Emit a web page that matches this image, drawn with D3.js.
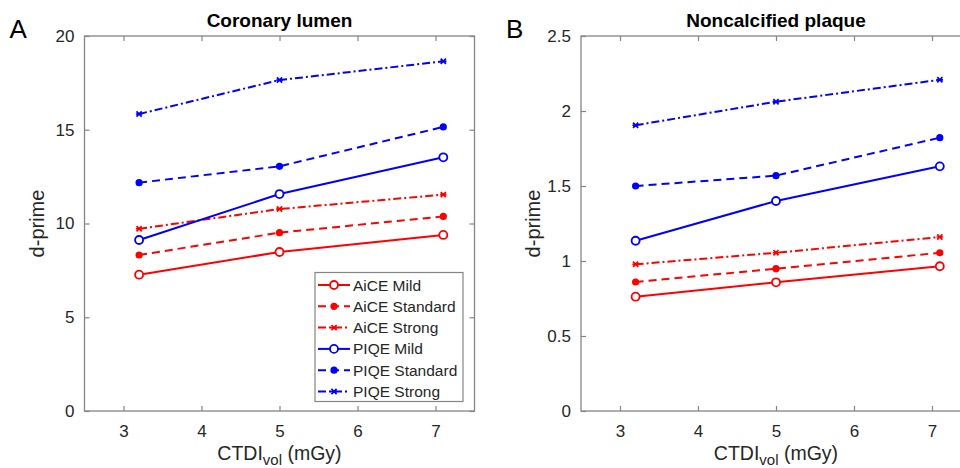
<!DOCTYPE html>
<html><head><meta charset="utf-8">
<script src="https://cdn.jsdelivr.net/npm/d3@7"></script>
<style>body{margin:0;background:#fff}svg{display:block}text{font-family:Arial,"Liberation Sans",sans-serif}</style>
</head><body><svg id="c" width="960" height="468"></svg>
<script>
const doses = [3.2, 5, 7.1];
const seriesNames = ["AiCE Mild","AiCE Standard","AiCE Strong","PIQE Mild","PIQE Standard","PIQE Strong"];
const seriesColors = ["#ff0000","#ff0000","#ff0000","#0000ff","#0000ff","#0000ff"];
const seriesStyles = ["solid","dash","dashdot","solid","dash","dashdot"];
const seriesMarkers = ["circle","dot","star","circle","dot","star"];
// Coronary lumen
const lumenAiceMild = [7.27, 8.48, 9.39];
const lumenAiceStandard = [8.32, 9.51, 10.38];
const lumenAiceStrong = [9.72, 10.77, 11.54];
const lumenPiqeMild = [9.12, 11.57, 13.53];
const lumenPiqeStandard = [12.18, 13.05, 15.15];
const lumenPiqeStrong = [15.84, 17.65, 18.65];
// Noncalcified plaque
const plaqueAiceMild = [0.762, 0.858, 0.965];
const plaqueAiceStandard = [0.86, 0.949, 1.055];
const plaqueAiceStrong = [0.978, 1.055, 1.16];
const plaquePiqeMild = [1.135, 1.40, 1.631];
const plaquePiqeStandard = [1.50, 1.569, 1.822];
const plaquePiqeStrong = [1.905, 2.062, 2.208];
const xTicks = [3,4,5,6,7];
const lumenYTicks = [0,5,10,15,20];
const plaqueYTicks = [0,0.5,1,1.5,2,2.5];

const panels = [
  {letter:"A", title:"Coronary lumen", left:84.5, right:474.5, ymax:20, yTicks:lumenYTicks,
   data:[lumenAiceMild,lumenAiceStandard,lumenAiceStrong,lumenPiqeMild,lumenPiqeStandard,lumenPiqeStrong], legend:true},
  {letter:"B", title:"Noncalcified plaque", left:581, right:971, ymax:2.5, yTicks:plaqueYTicks,
   data:[plaqueAiceMild,plaqueAiceStandard,plaqueAiceStrong,plaquePiqeMild,plaquePiqeStandard,plaquePiqeStrong], legend:false}
];
const plotTop=36, plotBottom=411;
const svg=d3.select("#c");
const dashes={solid:null,dash:"8,5",dashdot:"8,3,2,3"};
const axisCol="#858585", txtCol="#262626";
const fmtTick=d=>String(d);

function drawMarker(g, type, x, y, col){
  if(type==="circle") g.append("circle").attr("cx",x).attr("cy",y).attr("r",4).attr("fill","#fff").attr("stroke",col).attr("stroke-width",1.8);
  else if(type==="dot") g.append("circle").attr("cx",x).attr("cy",y).attr("r",3.6).attr("fill",col);
  else {
    const s=2.6;
    g.append("path").attr("d",`M${x-s},${y-s}L${x+s},${y+s}M${x-s},${y+s}L${x+s},${y-s}M${x-3.2},${y}L${x+3.2},${y}`)
     .attr("stroke",col).attr("stroke-width",1.7).attr("fill","none");
  }
}

panels.forEach(p=>{
  const x=d3.scaleLinear().domain([2.5,7.5]).range([p.left,p.right]);
  const y=d3.scaleLinear().domain([0,p.ymax]).range([plotBottom,plotTop]);
  const g=svg.append("g");
  g.append("rect").attr("x",p.left).attr("y",plotTop).attr("width",p.right-p.left).attr("height",plotBottom-plotTop)
   .attr("fill","none").attr("stroke",axisCol).attr("stroke-width",1.3);
  const ax=g.append("g").attr("transform",`translate(0,${plotBottom})`).call(d3.axisBottom(x).tickValues(xTicks).tickSizeInner(-5).tickSizeOuter(0).tickPadding(14).tickFormat(fmtTick));
  const axT=g.append("g").attr("transform",`translate(0,${plotTop})`).call(d3.axisTop(x).tickValues(xTicks).tickSizeInner(-5).tickSizeOuter(0).tickFormat(""));
  const ay=g.append("g").attr("transform",`translate(${p.left},0)`).call(d3.axisLeft(y).tickValues(p.yTicks).tickSizeInner(-5).tickSizeOuter(0).tickPadding(10).tickFormat(fmtTick));
  const ayR=g.append("g").attr("transform",`translate(${p.right},0)`).call(d3.axisRight(y).tickValues(p.yTicks).tickSizeInner(-5).tickSizeOuter(0).tickFormat(""));
  [ax,axT,ay,ayR].forEach(a=>{a.select(".domain").remove();a.selectAll("line").attr("stroke",axisCol).attr("stroke-width",1.2);
    a.selectAll("text").attr("fill",txtCol).style("font-size","17px");});
  g.append("text").attr("x",(p.left+p.right)/2).attr("y",27).attr("text-anchor","middle").style("font-size","19px").style("font-weight","bold").attr("fill","#000").text(p.title);
  g.append("text").attr("x",p.left-75).attr("y",38).style("font-size","26px").attr("fill","#000").text(p.letter);
  const xl=g.append("text").attr("x",(p.left+p.right)/2).attr("y",460).attr("text-anchor","middle").style("font-size","19.5px").attr("fill",txtCol);
  xl.append("tspan").text("CTDI");
  xl.append("tspan").attr("dy",5).style("font-size","15px").text("vol");
  xl.append("tspan").attr("dy",-5).text(" (mGy)");
  g.append("text").attr("transform",`translate(${p.left-41},${(plotTop+plotBottom)/2}) rotate(-90)`).attr("text-anchor","middle").style("font-size","20px").attr("fill",txtCol).text("d-prime");
  const line=d3.line().x((d,i)=>x(doses[i])).y(d=>y(d));
  p.data.forEach((vals,si)=>{
    const col=seriesColors[si];
    g.append("path").datum(vals).attr("d",line).attr("fill","none").attr("stroke",col).attr("stroke-width",2)
     .attr("stroke-dasharray",dashes[seriesStyles[si]]);
    vals.forEach((v,i)=>drawMarker(g,seriesMarkers[si],x(doses[i]),y(v),col));
  });
  if(p.legend){
    const lx=315, ly=272.5, lw=148, lh=129;
    const lg=g.append("g");
    lg.append("rect").attr("x",lx).attr("y",ly).attr("width",lw).attr("height",lh).attr("fill","#fff").attr("stroke",axisCol).attr("stroke-width",1.2);
    seriesNames.forEach((n,si)=>{
      const cy=ly+12.5+si*21.3;
      const col=seriesColors[si];
      lg.append("line").attr("x1",lx+3).attr("x2",lx+35).attr("y1",cy).attr("y2",cy).attr("stroke",col).attr("stroke-width",2).attr("stroke-dasharray",dashes[seriesStyles[si]]);
      drawMarker(lg,seriesMarkers[si],lx+19,cy,col);
      lg.append("text").attr("x",lx+38).attr("y",cy+5.5).style("font-size","15.5px").attr("fill",txtCol).text(n);
    });
  }
});
</script></body></html>
